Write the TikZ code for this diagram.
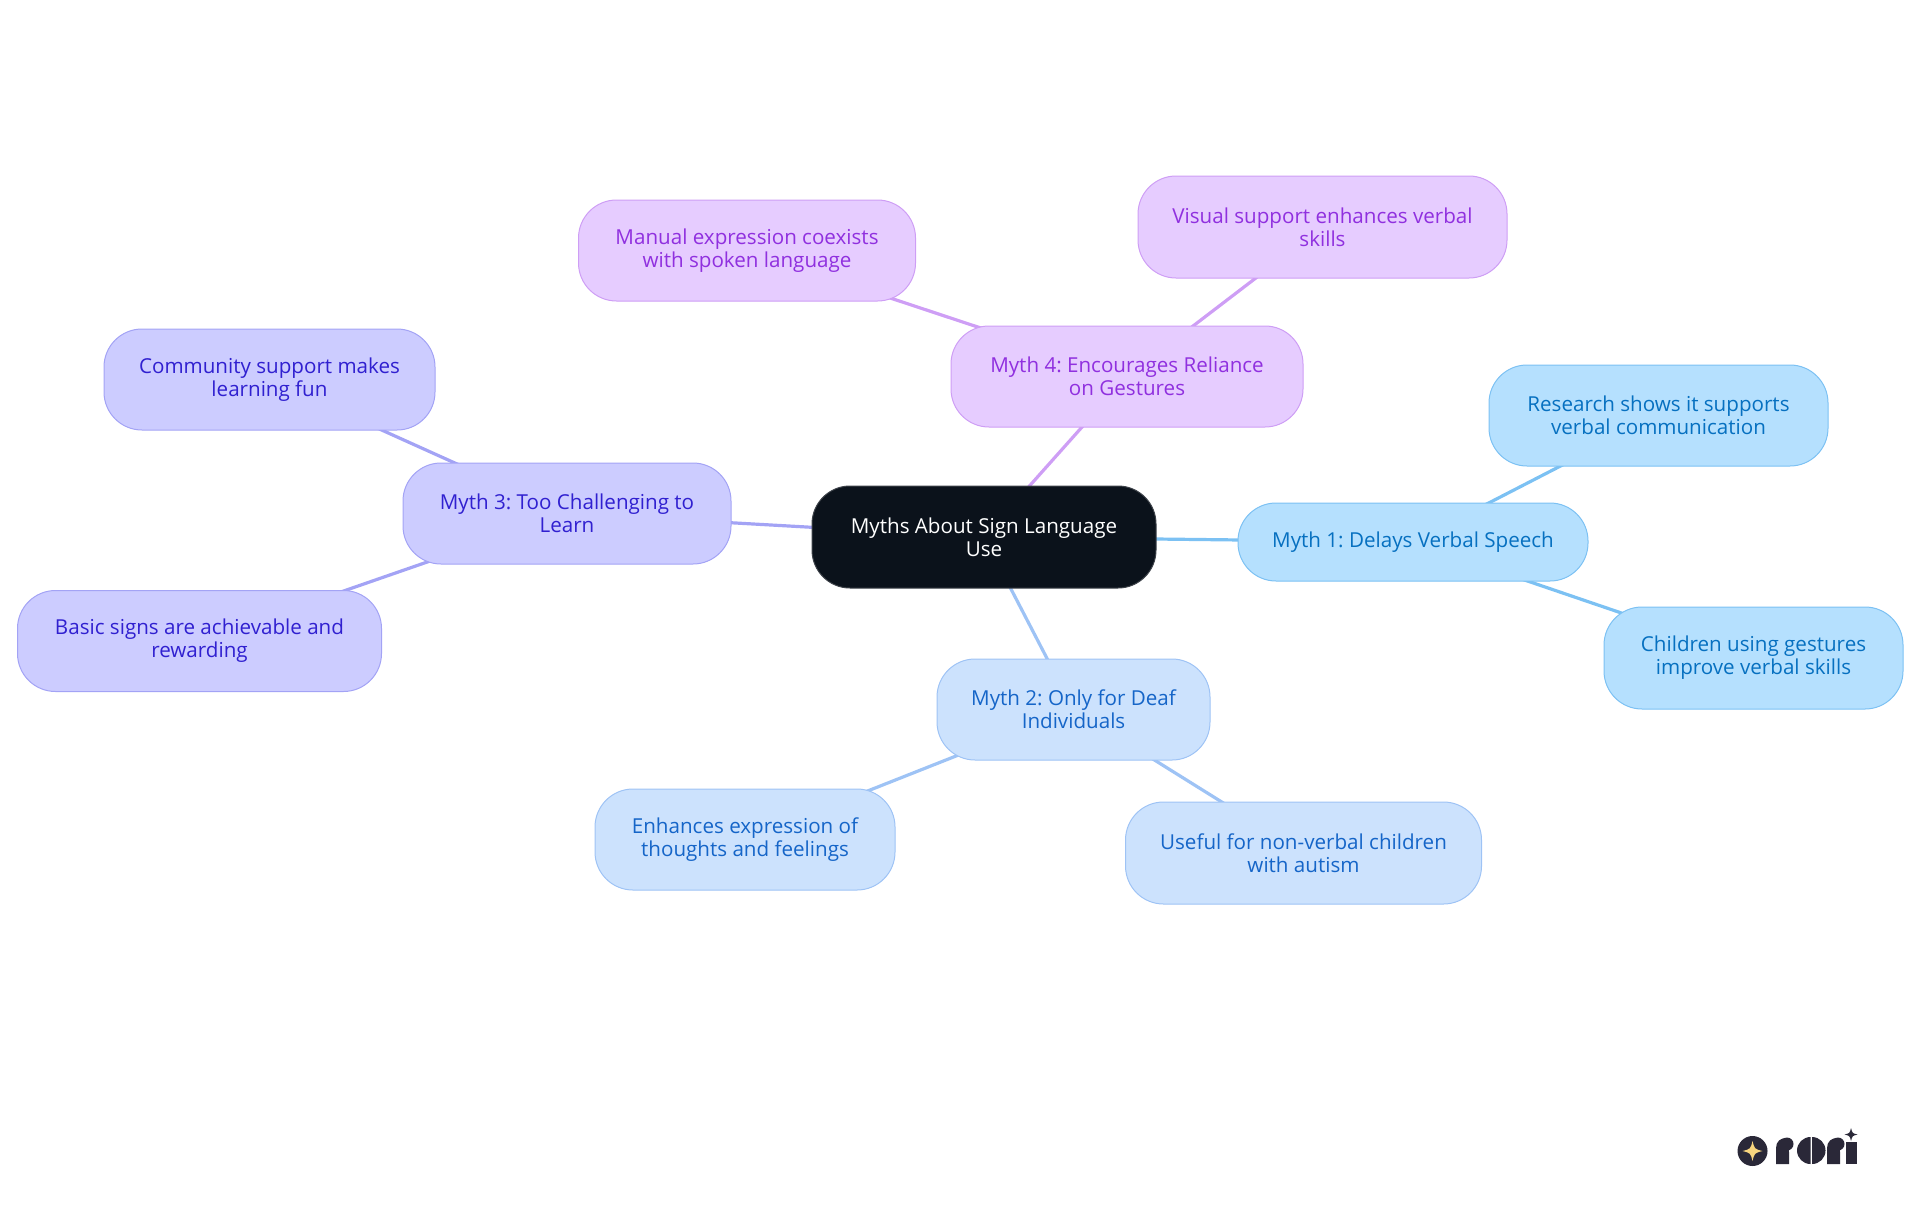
\documentclass[tikz,border=0pt]{standalone}
\usepackage{fontspec}
\setmainfont{Open Sans}
\frenchspacing
\usetikzlibrary{backgrounds}
\definecolor{rootfill}{HTML}{0B121B}\definecolor{rootline}{HTML}{3D4249}
\definecolor{afill}{HTML}{B5E0FE}\definecolor{aline}{HTML}{7CC1F3}\definecolor{atext}{HTML}{0670C0}
\definecolor{bfill}{HTML}{CCE2FD}\definecolor{bline}{HTML}{9EC3F5}\definecolor{btext}{HTML}{1565C8}
\definecolor{cfill}{HTML}{CCCCFF}\definecolor{cline}{HTML}{A3A3F5}\definecolor{ctext}{HTML}{3020D0}
\definecolor{dfill}{HTML}{E6CCFF}\definecolor{dline}{HTML}{CE9EF5}\definecolor{dtext}{HTML}{9030DF}
\definecolor{logodark}{HTML}{2A2838}\definecolor{logostar}{HTML}{F8D57E}
\tikzset{
  box/.style={rounded corners=19pt,line width=0.5pt,inner sep=0pt,align=center,
    font=\fontsize{10.3pt}{11.5pt}\selectfont},
  rootbox/.style={box,fill=rootfill,draw=rootline,text=white},
  abox/.style={box,fill=afill,draw=aline,text=atext},
  bbox/.style={box,fill=bfill,draw=bline,text=btext},
  cbox/.style={box,fill=cfill,draw=cline,text=ctext},
  dbox/.style={box,fill=dfill,draw=dline,text=dtext},
  link/.style={line width=1.6pt},
  sz/.style 2 args={minimum width=#1*0.5pt,minimum height=#2*0.5pt}
}
\newcommand{\logostar}[4]{\fill[#4] (#1+#3,#2) .. controls (#1+#3*0.2,#2-#3*0.2) .. (#1,#2-#3) .. controls (#1-#3*0.2,#2-#3*0.2) .. (#1-#3,#2) .. controls (#1-#3*0.2,#2+#3*0.2) .. (#1,#2+#3) .. controls (#1+#3*0.2,#2+#3*0.2) .. cycle;}
\begin{document}
\begin{tikzpicture}[x=0.5pt,y=-0.5pt]
\useasboundingbox (0,0) rectangle (1920,1215);
\node[rootbox,sz={344}{102}] (root) at (984,537) {Myths About Sign Language\\Use};
\node[abox,sz={350}{78}] (m1) at (1413,542) {Myth 1: Delays Verbal Speech};
\node[bbox,sz={273}{101}] (m2) at (1073.5,709.5) {Myth 2: Only for Deaf\\Individuals};
\node[cbox,sz={328}{101}] (m3) at (567,513.5) {Myth 3: Too Challenging to\\Learn};
\node[dbox,sz={352}{101}] (m4) at (1127,376.5) {Myth 4: Encourages Reliance\\on Gestures};
\node[abox,sz={339}{101}] (a1) at (1658.5,415.5) {Research shows it supports\\verbal communication};
\node[abox,sz={299}{102}] (a2) at (1753.5,658) {Children using gestures\\improve verbal skills};
\node[bbox,sz={300}{101}] (b1) at (745,839.5) {Enhances expression of\\thoughts and feelings};
\node[bbox,sz={356}{102}] (b2) at (1303.5,853) {Useful for non-verbal children\\with autism};
\node[cbox,sz={331}{101}] (c1) at (269.5,379.5) {Community support makes\\learning fun};
\node[cbox,sz={364}{101}] (c2) at (199.5,641) {Basic signs are achievable and\\rewarding};
\node[dbox,sz={337}{101}] (d1) at (747,250.5) {Manual expression coexists\\with spoken language};
\node[dbox,sz={369}{102}] (d2) at (1322.5,227) {Visual support enhances verbal\\skills};
\begin{scope}[on background layer]
\draw[link,aline] (root.center) -- (m1.center);
\draw[link,bline] (root.center) -- (m2.center);
\draw[link,cline] (root.center) -- (m3.center);
\draw[link,dline] (root.center) -- (m4.center);
\draw[link,aline] (m1.center) -- (a1.center);
\draw[link,aline] (m1.center) -- (a2.center);
\draw[link,bline] (m2.center) -- (b1.center);
\draw[link,bline] (m2.center) -- (b2.center);
\draw[link,cline] (m3.center) -- (c1.center);
\draw[link,cline] (m3.center) -- (c2.center);
\draw[link,dline] (m4.center) -- (d1.center);
\draw[link,dline] (m4.center) -- (d2.center);
\end{scope}
% logo
\fill[logodark] (1752.5,1151) circle[radius=15];
\logostar{1752.5}{1151}{10}{logostar}
\fill[logodark] (1776,1164) -- (1776,1148) .. controls (1776,1141) and (1781,1138) .. (1786,1138) -- (1786,1146) .. controls (1789,1147) and (1789,1150) .. (1789,1152) -- (1789,1164) -- cycle;
\fill[logodark] (1787,1144) circle[radius=6.5];
\fill[logodark] (1810.5,1137) arc[start angle=-90,end angle=-270,radius=13.5] -- cycle;
\fill[logodark] (1812,1137) arc[start angle=-90,end angle=90,radius=13.5] -- cycle;
\fill[logodark] (1827,1164) -- (1827,1148) .. controls (1827,1141) and (1832,1138) .. (1837,1138) -- (1837,1146) .. controls (1840,1147) and (1840,1150) .. (1840,1152) -- (1840,1164) -- cycle;
\fill[logodark] (1838,1144) circle[radius=6.5];
\fill[logodark] (1846,1142) -- (1856.5,1142) -- (1856.5,1164) -- (1846,1164) -- cycle;
\logostar{1851}{1134.5}{6.5}{logodark}
\end{tikzpicture}
\end{document}
